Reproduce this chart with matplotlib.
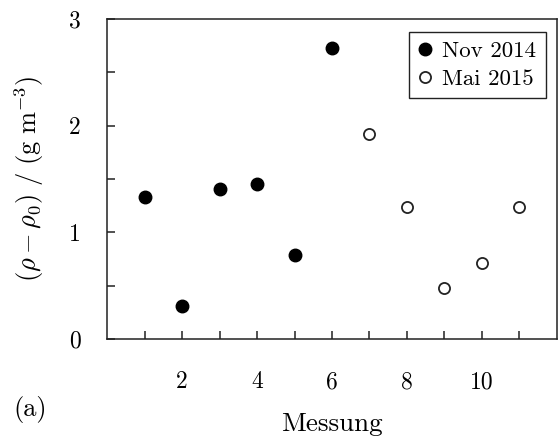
import matplotlib
matplotlib.use("Agg")
import matplotlib.pyplot as plt

plt.rcParams['font.family'] = 'serif'
plt.rcParams['font.serif'] = ['cmr10']
plt.rcParams['mathtext.fontset'] = 'cm'
plt.rcParams['axes.formatter.use_mathtext'] = True

# Messungen 1-6 im Nov 2014, 7-11 im Mai 2015
nov_x = [1, 2, 3, 4, 5, 6]
nov_y = [1.33, 0.31, 1.41, 1.45, 0.79, 2.73]
mai_x = [7, 8, 9, 10, 11]
mai_y = [1.92, 1.24, 0.48, 0.71, 1.24]

xticks = list(range(1, 12))
xlabels = [str(t) if t % 2 == 0 else "" for t in xticks]
yticks = [0, 0.5, 1, 1.5, 2, 2.5, 3]
ylabels = ["0", "", "1", "", "2", "", "3"]

fig = plt.figure(figsize=(5.58, 4.44), dpi=100)
ax = fig.add_axes([0.192, 0.2365, 0.806, 0.7205])

ax.plot(nov_x, nov_y, 'o', color='black', markersize=9, label='Nov 2014')
ax.plot(mai_x, mai_y, 'o', markerfacecolor='white', markeredgecolor='#222222',
        markeredgewidth=1.3, markersize=8, label='Mai 2015')

ax.set_xlim(0, 12)
ax.set_ylim(0, 3)
ax.set_xticks(xticks)
ax.set_xticklabels(xlabels)
ax.set_yticks(yticks)
ax.set_yticklabels(ylabels)
ax.tick_params(direction='in', length=6, width=1.1, labelsize=17, color='#222222')
ax.tick_params(axis='x', pad=23)
ax.tick_params(axis='y', pad=19)
for s in ax.spines.values():
    s.set_linewidth(1.1)
    s.set_color('#222222')

ax.set_xlabel('Messung', fontsize=19.5, labelpad=14)
ax.set_ylabel(r'$(\rho - \rho_0)\ /\ (\mathrm{g\ m^{-3}})$', fontsize=19)
ax.yaxis.set_label_coords(-0.135, 0.5)

leg = ax.legend(loc='upper right', fontsize=16.5, numpoints=1, fancybox=False,
                framealpha=1, edgecolor='#222222', handlelength=0.6,
                handletextpad=0.45, borderpad=0.4, labelspacing=0.35,
                borderaxespad=0, bbox_to_anchor=(0.975, 0.96))
leg.get_frame().set_linewidth(1.0)

fig.text(0.054, 0.077, '(a)', fontsize=19, ha='center', va='center')

fig.savefig('out.png', dpi=100)
